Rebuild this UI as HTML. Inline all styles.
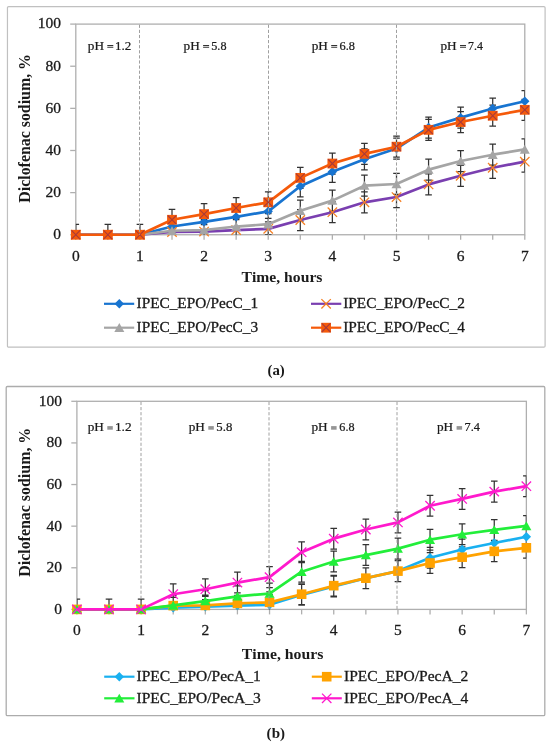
<!DOCTYPE html>
<html><head><meta charset="utf-8"><title>Diclofenac sodium release</title>
<style>
html,body{margin:0;padding:0;background:#fff;}
body{width:550px;height:745px;overflow:hidden;}
svg{display:block;will-change:transform;font-family:"Liberation Serif",serif;font-kerning:none;fill:#1a1a1a;}
text{fill:#1a1a1a;stroke:#1a1a1a;stroke-width:0.3px;}
text[font-weight=bold]{stroke-width:0;}
.ph text{stroke-width:0.22px;}
</style></head><body>
<svg width="550" height="745" viewBox="0 0 550 745">
<rect x="7.45" y="6.55" width="537.65" height="340.65" rx="1.2" fill="none" stroke="#c0c0c0" stroke-width="1.2"/>
<rect x="75.80" y="24.10" width="448.98" height="210.65" fill="none" stroke="#afafaf" stroke-width="1.3"/>
<line x1="70.20" y1="234.75" x2="75.80" y2="234.75" stroke="#afafaf" stroke-width="1.3"/>
<line x1="70.20" y1="192.62" x2="75.80" y2="192.62" stroke="#afafaf" stroke-width="1.3"/>
<line x1="70.20" y1="150.49" x2="75.80" y2="150.49" stroke="#afafaf" stroke-width="1.3"/>
<line x1="70.20" y1="108.36" x2="75.80" y2="108.36" stroke="#afafaf" stroke-width="1.3"/>
<line x1="70.20" y1="66.23" x2="75.80" y2="66.23" stroke="#afafaf" stroke-width="1.3"/>
<line x1="70.20" y1="24.10" x2="75.80" y2="24.10" stroke="#afafaf" stroke-width="1.3"/>
<line x1="75.80" y1="234.75" x2="75.80" y2="239.75" stroke="#afafaf" stroke-width="1.3"/>
<line x1="107.87" y1="234.75" x2="107.87" y2="239.75" stroke="#afafaf" stroke-width="1.3"/>
<line x1="139.94" y1="234.75" x2="139.94" y2="239.75" stroke="#afafaf" stroke-width="1.3"/>
<line x1="172.01" y1="234.75" x2="172.01" y2="239.75" stroke="#afafaf" stroke-width="1.3"/>
<line x1="204.08" y1="234.75" x2="204.08" y2="239.75" stroke="#afafaf" stroke-width="1.3"/>
<line x1="236.15" y1="234.75" x2="236.15" y2="239.75" stroke="#afafaf" stroke-width="1.3"/>
<line x1="268.22" y1="234.75" x2="268.22" y2="239.75" stroke="#afafaf" stroke-width="1.3"/>
<line x1="300.29" y1="234.75" x2="300.29" y2="239.75" stroke="#afafaf" stroke-width="1.3"/>
<line x1="332.36" y1="234.75" x2="332.36" y2="239.75" stroke="#afafaf" stroke-width="1.3"/>
<line x1="364.43" y1="234.75" x2="364.43" y2="239.75" stroke="#afafaf" stroke-width="1.3"/>
<line x1="396.50" y1="234.75" x2="396.50" y2="239.75" stroke="#afafaf" stroke-width="1.3"/>
<line x1="428.57" y1="234.75" x2="428.57" y2="239.75" stroke="#afafaf" stroke-width="1.3"/>
<line x1="460.64" y1="234.75" x2="460.64" y2="239.75" stroke="#afafaf" stroke-width="1.3"/>
<line x1="492.71" y1="234.75" x2="492.71" y2="239.75" stroke="#afafaf" stroke-width="1.3"/>
<line x1="524.78" y1="234.75" x2="524.78" y2="239.75" stroke="#afafaf" stroke-width="1.3"/>
<text x="61.10" y="239.05" font-size="15.50" text-anchor="end">0</text>
<text x="61.10" y="196.92" font-size="15.50" text-anchor="end">20</text>
<text x="61.10" y="154.79" font-size="15.50" text-anchor="end">40</text>
<text x="61.10" y="112.66" font-size="15.50" text-anchor="end">60</text>
<text x="61.10" y="70.53" font-size="15.50" text-anchor="end">80</text>
<text x="61.10" y="28.40" font-size="15.50" text-anchor="end">100</text>
<text x="75.80" y="260.70" font-size="15.50" text-anchor="middle">0</text>
<text x="139.94" y="260.70" font-size="15.50" text-anchor="middle">1</text>
<text x="204.08" y="260.70" font-size="15.50" text-anchor="middle">2</text>
<text x="268.22" y="260.70" font-size="15.50" text-anchor="middle">3</text>
<text x="332.36" y="260.70" font-size="15.50" text-anchor="middle">4</text>
<text x="396.50" y="260.70" font-size="15.50" text-anchor="middle">5</text>
<text x="460.64" y="260.70" font-size="15.50" text-anchor="middle">6</text>
<text x="524.78" y="260.70" font-size="15.50" text-anchor="middle">7</text>
<text x="241.45" y="281.60" font-size="14.60" font-weight="bold" textLength="81.03" lengthAdjust="spacingAndGlyphs">Time, hours</text>
<text transform="translate(29.80,202.68) rotate(-90)" x="0" y="0" font-size="16.20" font-weight="bold" textLength="148.67" lengthAdjust="spacingAndGlyphs">Diclofenac sodium, %</text>
<clipPath id="ca"><rect x="75.80" y="24.10" width="448.98" height="210.65"/></clipPath>
<path d="M75.80 224.25V245.25M72.50 224.25H79.10M72.50 245.25H79.10M107.87 224.25V245.25M104.57 224.25H111.17M104.57 245.25H111.17M139.94 224.25V245.25M136.64 224.25H143.24M136.64 245.25H143.24M172.01 216.03V237.03M168.71 216.03H175.31M168.71 237.03H175.31M204.08 211.40V232.40M200.78 211.40H207.38M200.78 232.40H207.38M236.15 206.34V227.34M232.85 206.34H239.45M232.85 227.34H239.45M268.22 200.87V221.87M264.92 200.87H271.52M264.92 221.87H271.52M300.29 175.80V196.80M296.99 175.80H303.59M296.99 196.80H303.59M332.36 161.27V182.27M329.06 161.27H335.66M329.06 182.27H335.66M364.43 148.84V169.84M361.13 148.84H367.73M361.13 169.84H367.73M396.50 138.09V159.09M393.20 138.09H399.80M393.20 159.09H399.80M428.57 117.03V138.03M425.27 117.03H431.87M425.27 138.03H431.87M460.64 107.13V128.13M457.34 107.13H463.94M457.34 128.13H463.94M492.71 98.07V119.07M489.41 98.07H496.01M489.41 119.07H496.01M524.78 90.70V111.70M521.48 90.70H528.08M521.48 111.70H528.08M75.80 224.25V245.25M72.50 224.25H79.10M72.50 245.25H79.10M107.87 224.25V245.25M104.57 224.25H111.17M104.57 245.25H111.17M139.94 224.25V245.25M136.64 224.25H143.24M136.64 245.25H143.24M172.01 221.51V242.51M168.71 221.51H175.31M168.71 242.51H175.31M204.08 221.09V242.09M200.78 221.09H207.38M200.78 242.09H207.38M236.15 219.62V240.62M232.85 219.62H239.45M232.85 240.62H239.45M268.22 218.35V239.35M264.92 218.35H271.52M264.92 239.35H271.52M300.29 209.50V230.50M296.99 209.50H303.59M296.99 230.50H303.59M332.36 201.71V222.71M329.06 201.71H335.66M329.06 222.71H335.66M364.43 191.81V212.81M361.13 191.81H367.73M361.13 212.81H367.73M396.50 186.54V207.54M393.20 186.54H399.80M393.20 207.54H399.80M428.57 173.90V194.90M425.27 173.90H431.87M425.27 194.90H431.87M460.64 165.27V186.27M457.34 165.27H463.94M457.34 186.27H463.94M492.71 157.26V178.26M489.41 157.26H496.01M489.41 178.26H496.01M524.78 151.15V172.15M521.48 151.15H528.08M521.48 172.15H528.08M75.80 224.25V245.25M72.50 224.25H79.10M72.50 245.25H79.10M107.87 224.25V245.25M104.57 224.25H111.17M104.57 245.25H111.17M139.94 224.25V245.25M136.64 224.25H143.24M136.64 245.25H143.24M172.01 220.25V241.25M168.71 220.25H175.31M168.71 241.25H175.31M204.08 219.62V240.62M200.78 219.62H207.38M200.78 240.62H207.38M236.15 216.03V237.03M232.85 216.03H239.45M232.85 237.03H239.45M268.22 213.72V234.72M264.92 213.72H271.52M264.92 234.72H271.52M300.29 200.24V221.24M296.99 200.24H303.59M296.99 221.24H303.59M332.36 190.12V211.12M329.06 190.12H335.66M329.06 211.12H335.66M364.43 175.17V196.17M361.13 175.17H367.73M361.13 196.17H367.73M396.50 173.48V194.48M393.20 173.48H399.80M393.20 194.48H399.80M428.57 159.16V180.16M425.27 159.16H431.87M425.27 180.16H431.87M460.64 150.52V171.52M457.34 150.52H463.94M457.34 171.52H463.94M492.71 144.20V165.20M489.41 144.20H496.01M489.41 165.20H496.01M524.78 138.94V159.94M521.48 138.94H528.08M521.48 159.94H528.08M75.80 224.25V245.25M72.50 224.25H79.10M72.50 245.25H79.10M107.87 224.25V245.25M104.57 224.25H111.17M104.57 245.25H111.17M139.94 224.25V245.25M136.64 224.25H143.24M136.64 245.25H143.24M172.01 209.29V230.29M168.71 209.29H175.31M168.71 230.29H175.31M204.08 203.61V224.61M200.78 203.61H207.38M200.78 224.61H207.38M236.15 197.50V218.50M232.85 197.50H239.45M232.85 218.50H239.45M268.22 191.81V212.81M264.92 191.81H271.52M264.92 212.81H271.52M300.29 167.37V188.37M296.99 167.37H303.59M296.99 188.37H303.59M332.36 153.05V174.05M329.06 153.05H335.66M329.06 174.05H335.66M364.43 143.36V164.36M361.13 143.36H367.73M361.13 164.36H367.73M396.50 136.20V157.20M393.20 136.20H399.80M393.20 157.20H399.80M428.57 119.35V140.35M425.27 119.35H431.87M425.27 140.35H431.87M460.64 111.55V132.55M457.34 111.55H463.94M457.34 132.55H463.94M492.71 105.23V126.23M489.41 105.23H496.01M489.41 126.23H496.01M524.78 99.33V120.33M521.48 99.33H528.08M521.48 120.33H528.08" stroke="#333" stroke-width="1.25" fill="none" clip-path="url(#ca)"/>
<polyline points="75.80,234.75 107.87,234.75 139.94,234.75 172.01,226.53 204.08,221.90 236.15,216.84 268.22,211.37 300.29,186.30 332.36,171.77 364.43,159.34 396.50,148.59 428.57,127.53 460.64,117.63 492.71,108.57 524.78,101.20" fill="none" stroke="#1874d0" stroke-width="2.7" stroke-linejoin="round"/>
<path d="M75.80 230.05L80.50 234.75L75.80 239.45L71.10 234.75Z" fill="#1874d0"/>
<path d="M107.87 230.05L112.57 234.75L107.87 239.45L103.17 234.75Z" fill="#1874d0"/>
<path d="M139.94 230.05L144.64 234.75L139.94 239.45L135.24 234.75Z" fill="#1874d0"/>
<path d="M172.01 221.83L176.71 226.53L172.01 231.23L167.31 226.53Z" fill="#1874d0"/>
<path d="M204.08 217.20L208.78 221.90L204.08 226.60L199.38 221.90Z" fill="#1874d0"/>
<path d="M236.15 212.14L240.85 216.84L236.15 221.54L231.45 216.84Z" fill="#1874d0"/>
<path d="M268.22 206.67L272.92 211.37L268.22 216.07L263.52 211.37Z" fill="#1874d0"/>
<path d="M300.29 181.60L304.99 186.30L300.29 191.00L295.59 186.30Z" fill="#1874d0"/>
<path d="M332.36 167.07L337.06 171.77L332.36 176.47L327.66 171.77Z" fill="#1874d0"/>
<path d="M364.43 154.64L369.13 159.34L364.43 164.04L359.73 159.34Z" fill="#1874d0"/>
<path d="M396.50 143.89L401.20 148.59L396.50 153.29L391.80 148.59Z" fill="#1874d0"/>
<path d="M428.57 122.83L433.27 127.53L428.57 132.23L423.87 127.53Z" fill="#1874d0"/>
<path d="M460.64 112.93L465.34 117.63L460.64 122.33L455.94 117.63Z" fill="#1874d0"/>
<path d="M492.71 103.87L497.41 108.57L492.71 113.27L488.01 108.57Z" fill="#1874d0"/>
<path d="M524.78 96.50L529.48 101.20L524.78 105.90L520.08 101.20Z" fill="#1874d0"/>
<polyline points="75.80,234.75 107.87,234.75 139.94,234.75 172.01,232.01 204.08,231.59 236.15,230.12 268.22,228.85 300.29,220.00 332.36,212.21 364.43,202.31 396.50,197.04 428.57,184.40 460.64,175.77 492.71,167.76 524.78,161.65" fill="none" stroke="#7a3fb0" stroke-width="2.7" stroke-linejoin="round"/>
<path d="M71.10 230.05L80.50 239.45M80.50 230.05L71.10 239.45" stroke="#f58025" stroke-width="1.3" fill="none"/>
<path d="M103.17 230.05L112.57 239.45M112.57 230.05L103.17 239.45" stroke="#f58025" stroke-width="1.3" fill="none"/>
<path d="M135.24 230.05L144.64 239.45M144.64 230.05L135.24 239.45" stroke="#f58025" stroke-width="1.3" fill="none"/>
<path d="M167.31 227.31L176.71 236.71M176.71 227.31L167.31 236.71" stroke="#f58025" stroke-width="1.3" fill="none"/>
<path d="M199.38 226.89L208.78 236.29M208.78 226.89L199.38 236.29" stroke="#f58025" stroke-width="1.3" fill="none"/>
<path d="M231.45 225.42L240.85 234.82M240.85 225.42L231.45 234.82" stroke="#f58025" stroke-width="1.3" fill="none"/>
<path d="M263.52 224.15L272.92 233.55M272.92 224.15L263.52 233.55" stroke="#f58025" stroke-width="1.3" fill="none"/>
<path d="M295.59 215.30L304.99 224.70M304.99 215.30L295.59 224.70" stroke="#f58025" stroke-width="1.3" fill="none"/>
<path d="M327.66 207.51L337.06 216.91M337.06 207.51L327.66 216.91" stroke="#f58025" stroke-width="1.3" fill="none"/>
<path d="M359.73 197.61L369.13 207.01M369.13 197.61L359.73 207.01" stroke="#f58025" stroke-width="1.3" fill="none"/>
<path d="M391.80 192.34L401.20 201.74M401.20 192.34L391.80 201.74" stroke="#f58025" stroke-width="1.3" fill="none"/>
<path d="M423.87 179.70L433.27 189.10M433.27 179.70L423.87 189.10" stroke="#f58025" stroke-width="1.3" fill="none"/>
<path d="M455.94 171.07L465.34 180.47M465.34 171.07L455.94 180.47" stroke="#f58025" stroke-width="1.3" fill="none"/>
<path d="M488.01 163.06L497.41 172.46M497.41 163.06L488.01 172.46" stroke="#f58025" stroke-width="1.3" fill="none"/>
<path d="M520.08 156.95L529.48 166.35M529.48 156.95L520.08 166.35" stroke="#f58025" stroke-width="1.3" fill="none"/>
<polyline points="75.80,234.75 107.87,234.75 139.94,234.75 172.01,230.75 204.08,230.12 236.15,226.53 268.22,224.22 300.29,210.74 332.36,200.62 364.43,185.67 396.50,183.98 428.57,169.66 460.64,161.02 492.71,154.70 524.78,149.44" fill="none" stroke="#a5a5a5" stroke-width="2.7" stroke-linejoin="round"/>
<path d="M75.80 230.15L80.80 238.95L70.80 238.95Z" fill="#a5a5a5"/>
<path d="M107.87 230.15L112.87 238.95L102.87 238.95Z" fill="#a5a5a5"/>
<path d="M139.94 230.15L144.94 238.95L134.94 238.95Z" fill="#a5a5a5"/>
<path d="M172.01 226.15L177.01 234.95L167.01 234.95Z" fill="#a5a5a5"/>
<path d="M204.08 225.52L209.08 234.32L199.08 234.32Z" fill="#a5a5a5"/>
<path d="M236.15 221.93L241.15 230.73L231.15 230.73Z" fill="#a5a5a5"/>
<path d="M268.22 219.62L273.22 228.42L263.22 228.42Z" fill="#a5a5a5"/>
<path d="M300.29 206.14L305.29 214.94L295.29 214.94Z" fill="#a5a5a5"/>
<path d="M332.36 196.02L337.36 204.82L327.36 204.82Z" fill="#a5a5a5"/>
<path d="M364.43 181.07L369.43 189.87L359.43 189.87Z" fill="#a5a5a5"/>
<path d="M396.50 179.38L401.50 188.18L391.50 188.18Z" fill="#a5a5a5"/>
<path d="M428.57 165.06L433.57 173.86L423.57 173.86Z" fill="#a5a5a5"/>
<path d="M460.64 156.42L465.64 165.22L455.64 165.22Z" fill="#a5a5a5"/>
<path d="M492.71 150.10L497.71 158.90L487.71 158.90Z" fill="#a5a5a5"/>
<path d="M524.78 144.84L529.78 153.64L519.78 153.64Z" fill="#a5a5a5"/>
<polyline points="75.80,234.75 107.87,234.75 139.94,234.75 172.01,219.79 204.08,214.11 236.15,208.00 268.22,202.31 300.29,177.87 332.36,163.55 364.43,153.86 396.50,146.70 428.57,129.85 460.64,122.05 492.71,115.73 524.78,109.83" fill="none" stroke="#f55a0a" stroke-width="2.7" stroke-linejoin="round"/>
<rect x="70.90" y="229.85" width="9.80" height="9.80" fill="#f55a0a"/><path d="M71.50 230.45L80.10 239.05M80.10 230.45L71.50 239.05" stroke="#a83a3a" stroke-width="1.1" fill="none"/>
<rect x="102.97" y="229.85" width="9.80" height="9.80" fill="#f55a0a"/><path d="M103.57 230.45L112.17 239.05M112.17 230.45L103.57 239.05" stroke="#a83a3a" stroke-width="1.1" fill="none"/>
<rect x="135.04" y="229.85" width="9.80" height="9.80" fill="#f55a0a"/><path d="M135.64 230.45L144.24 239.05M144.24 230.45L135.64 239.05" stroke="#a83a3a" stroke-width="1.1" fill="none"/>
<rect x="167.11" y="214.89" width="9.80" height="9.80" fill="#f55a0a"/><path d="M167.71 215.49L176.31 224.09M176.31 215.49L167.71 224.09" stroke="#a83a3a" stroke-width="1.1" fill="none"/>
<rect x="199.18" y="209.21" width="9.80" height="9.80" fill="#f55a0a"/><path d="M199.78 209.81L208.38 218.41M208.38 209.81L199.78 218.41" stroke="#a83a3a" stroke-width="1.1" fill="none"/>
<rect x="231.25" y="203.10" width="9.80" height="9.80" fill="#f55a0a"/><path d="M231.85 203.70L240.45 212.30M240.45 203.70L231.85 212.30" stroke="#a83a3a" stroke-width="1.1" fill="none"/>
<rect x="263.32" y="197.41" width="9.80" height="9.80" fill="#f55a0a"/><path d="M263.92 198.01L272.52 206.61M272.52 198.01L263.92 206.61" stroke="#a83a3a" stroke-width="1.1" fill="none"/>
<rect x="295.39" y="172.97" width="9.80" height="9.80" fill="#f55a0a"/><path d="M295.99 173.57L304.59 182.17M304.59 173.57L295.99 182.17" stroke="#a83a3a" stroke-width="1.1" fill="none"/>
<rect x="327.46" y="158.65" width="9.80" height="9.80" fill="#f55a0a"/><path d="M328.06 159.25L336.66 167.85M336.66 159.25L328.06 167.85" stroke="#a83a3a" stroke-width="1.1" fill="none"/>
<rect x="359.53" y="148.96" width="9.80" height="9.80" fill="#f55a0a"/><path d="M360.13 149.56L368.73 158.16M368.73 149.56L360.13 158.16" stroke="#a83a3a" stroke-width="1.1" fill="none"/>
<rect x="391.60" y="141.80" width="9.80" height="9.80" fill="#f55a0a"/><path d="M392.20 142.40L400.80 151.00M400.80 142.40L392.20 151.00" stroke="#a83a3a" stroke-width="1.1" fill="none"/>
<rect x="423.67" y="124.95" width="9.80" height="9.80" fill="#f55a0a"/><path d="M424.27 125.55L432.87 134.15M432.87 125.55L424.27 134.15" stroke="#a83a3a" stroke-width="1.1" fill="none"/>
<rect x="455.74" y="117.15" width="9.80" height="9.80" fill="#f55a0a"/><path d="M456.34 117.75L464.94 126.35M464.94 117.75L456.34 126.35" stroke="#a83a3a" stroke-width="1.1" fill="none"/>
<rect x="487.81" y="110.83" width="9.80" height="9.80" fill="#f55a0a"/><path d="M488.41 111.43L497.01 120.03M497.01 111.43L488.41 120.03" stroke="#a83a3a" stroke-width="1.1" fill="none"/>
<rect x="519.88" y="104.93" width="9.80" height="9.80" fill="#f55a0a"/><path d="M520.48 105.53L529.08 114.13M529.08 105.53L520.48 114.13" stroke="#a83a3a" stroke-width="1.1" fill="none"/>
<line x1="139.50" y1="24.70" x2="139.50" y2="234.75" stroke="#a0a0a0" stroke-width="1" stroke-dasharray="3.2 1.9"/>
<line x1="268.50" y1="24.70" x2="268.50" y2="234.75" stroke="#a0a0a0" stroke-width="1" stroke-dasharray="3.2 1.9"/>
<line x1="396.50" y1="24.70" x2="396.50" y2="234.75" stroke="#a0a0a0" stroke-width="1" stroke-dasharray="3.2 1.9"/>
<g class="ph">
<text x="87.79" y="50.25" font-size="11.70" textLength="16.20" lengthAdjust="spacingAndGlyphs">pH</text>
<path d="M107.30 44.95h6v1h-6zM107.30 46.85h6v1h-6z" fill="#333"/>
<text x="115.06" y="50.25" font-size="11.70" textLength="16.26" lengthAdjust="spacingAndGlyphs">1.2</text>
</g>
<g class="ph">
<text x="183.59" y="50.25" font-size="11.70" textLength="16.20" lengthAdjust="spacingAndGlyphs">pH</text>
<path d="M203.10 44.95h6v1h-6zM203.10 46.85h6v1h-6z" fill="#333"/>
<text x="211.29" y="50.25" font-size="11.70" textLength="15.17" lengthAdjust="spacingAndGlyphs">5.8</text>
</g>
<g class="ph">
<text x="311.69" y="50.25" font-size="11.70" textLength="16.20" lengthAdjust="spacingAndGlyphs">pH</text>
<path d="M331.20 44.95h6v1h-6zM331.20 46.85h6v1h-6z" fill="#333"/>
<text x="339.57" y="50.25" font-size="11.70" textLength="15.40" lengthAdjust="spacingAndGlyphs">6.8</text>
</g>
<g class="ph">
<text x="440.49" y="50.25" font-size="11.70" textLength="16.20" lengthAdjust="spacingAndGlyphs">pH</text>
<path d="M460.00 44.95h6v1h-6zM460.00 46.85h6v1h-6z" fill="#333"/>
<text x="468.12" y="50.25" font-size="11.70" textLength="14.87" lengthAdjust="spacingAndGlyphs">7.4</text>
</g>
<line x1="104.00" y1="303.80" x2="134.20" y2="303.80" stroke="#1874d0" stroke-width="2.2"/>
<path d="M119.30 299.10L124.00 303.80L119.30 308.50L114.60 303.80Z" fill="#1874d0"/>
<text x="136.55" y="308.30" font-size="14.60" textLength="121.57" lengthAdjust="spacingAndGlyphs">IPEC_EPO/PecC_1</text>
<line x1="311.00" y1="303.80" x2="341.30" y2="303.80" stroke="#7a3fb0" stroke-width="2.2"/>
<path d="M321.40 299.10L330.80 308.50M330.80 299.10L321.40 308.50" stroke="#f58025" stroke-width="1.3" fill="none"/>
<text x="343.25" y="308.30" font-size="14.60" textLength="121.57" lengthAdjust="spacingAndGlyphs">IPEC_EPO/PecC_2</text>
<line x1="104.00" y1="327.70" x2="134.20" y2="327.70" stroke="#a5a5a5" stroke-width="2.2"/>
<path d="M119.30 323.10L124.30 331.90L114.30 331.90Z" fill="#a5a5a5"/>
<text x="136.55" y="332.00" font-size="14.60" textLength="121.57" lengthAdjust="spacingAndGlyphs">IPEC_EPO/PecC_3</text>
<line x1="311.00" y1="327.70" x2="341.30" y2="327.70" stroke="#f55a0a" stroke-width="2.2"/>
<rect x="321.20" y="322.80" width="9.80" height="9.80" fill="#f55a0a"/><path d="M321.80 323.40L330.40 332.00M330.40 323.40L321.80 332.00" stroke="#a83a3a" stroke-width="1.1" fill="none"/>
<text x="343.25" y="332.00" font-size="14.60" textLength="121.57" lengthAdjust="spacingAndGlyphs">IPEC_EPO/PecC_4</text>
<text x="267.45" y="374.80" font-size="14.20" font-weight="bold" textLength="17.30" lengthAdjust="spacingAndGlyphs">(a)</text>
<rect x="6.2" y="386.5" width="538.60" height="329.20" rx="1.2" fill="none" stroke="#acacac" stroke-width="1.3"/>
<rect x="76.90" y="401.30" width="449.47" height="208.10" fill="none" stroke="#afafaf" stroke-width="1.3"/>
<line x1="71.30" y1="609.40" x2="76.90" y2="609.40" stroke="#afafaf" stroke-width="1.3"/>
<line x1="71.30" y1="567.78" x2="76.90" y2="567.78" stroke="#afafaf" stroke-width="1.3"/>
<line x1="71.30" y1="526.16" x2="76.90" y2="526.16" stroke="#afafaf" stroke-width="1.3"/>
<line x1="71.30" y1="484.54" x2="76.90" y2="484.54" stroke="#afafaf" stroke-width="1.3"/>
<line x1="71.30" y1="442.92" x2="76.90" y2="442.92" stroke="#afafaf" stroke-width="1.3"/>
<line x1="71.30" y1="401.30" x2="76.90" y2="401.30" stroke="#afafaf" stroke-width="1.3"/>
<line x1="76.90" y1="609.40" x2="76.90" y2="614.40" stroke="#afafaf" stroke-width="1.3"/>
<line x1="109.00" y1="609.40" x2="109.00" y2="614.40" stroke="#afafaf" stroke-width="1.3"/>
<line x1="141.11" y1="609.40" x2="141.11" y2="614.40" stroke="#afafaf" stroke-width="1.3"/>
<line x1="173.22" y1="609.40" x2="173.22" y2="614.40" stroke="#afafaf" stroke-width="1.3"/>
<line x1="205.32" y1="609.40" x2="205.32" y2="614.40" stroke="#afafaf" stroke-width="1.3"/>
<line x1="237.42" y1="609.40" x2="237.42" y2="614.40" stroke="#afafaf" stroke-width="1.3"/>
<line x1="269.53" y1="609.40" x2="269.53" y2="614.40" stroke="#afafaf" stroke-width="1.3"/>
<line x1="301.63" y1="609.40" x2="301.63" y2="614.40" stroke="#afafaf" stroke-width="1.3"/>
<line x1="333.74" y1="609.40" x2="333.74" y2="614.40" stroke="#afafaf" stroke-width="1.3"/>
<line x1="365.85" y1="609.40" x2="365.85" y2="614.40" stroke="#afafaf" stroke-width="1.3"/>
<line x1="397.95" y1="609.40" x2="397.95" y2="614.40" stroke="#afafaf" stroke-width="1.3"/>
<line x1="430.05" y1="609.40" x2="430.05" y2="614.40" stroke="#afafaf" stroke-width="1.3"/>
<line x1="462.16" y1="609.40" x2="462.16" y2="614.40" stroke="#afafaf" stroke-width="1.3"/>
<line x1="494.26" y1="609.40" x2="494.26" y2="614.40" stroke="#afafaf" stroke-width="1.3"/>
<line x1="526.37" y1="609.40" x2="526.37" y2="614.40" stroke="#afafaf" stroke-width="1.3"/>
<text x="62.00" y="613.90" font-size="15.50" text-anchor="end">0</text>
<text x="62.00" y="572.28" font-size="15.50" text-anchor="end">20</text>
<text x="62.00" y="530.66" font-size="15.50" text-anchor="end">40</text>
<text x="62.00" y="489.04" font-size="15.50" text-anchor="end">60</text>
<text x="62.00" y="447.42" font-size="15.50" text-anchor="end">80</text>
<text x="62.00" y="405.80" font-size="15.50" text-anchor="end">100</text>
<text x="76.90" y="635.40" font-size="15.50" text-anchor="middle">0</text>
<text x="141.11" y="635.40" font-size="15.50" text-anchor="middle">1</text>
<text x="205.32" y="635.40" font-size="15.50" text-anchor="middle">2</text>
<text x="269.53" y="635.40" font-size="15.50" text-anchor="middle">3</text>
<text x="333.74" y="635.40" font-size="15.50" text-anchor="middle">4</text>
<text x="397.95" y="635.40" font-size="15.50" text-anchor="middle">5</text>
<text x="462.16" y="635.40" font-size="15.50" text-anchor="middle">6</text>
<text x="526.37" y="635.40" font-size="15.50" text-anchor="middle">7</text>
<text x="241.85" y="658.60" font-size="14.60" font-weight="bold" textLength="81.53" lengthAdjust="spacingAndGlyphs">Time, hours</text>
<text transform="translate(29.60,576.78) rotate(-90)" x="0" y="0" font-size="16.20" font-weight="bold" textLength="149.07" lengthAdjust="spacingAndGlyphs">Diclofenac sodium, %</text>
<clipPath id="cb"><rect x="76.90" y="401.30" width="449.47" height="208.10"/></clipPath>
<path d="M76.90 599.00V619.80M73.60 599.00H80.20M73.60 619.80H80.20M109.00 599.00V619.80M105.70 599.00H112.30M105.70 619.80H112.30M141.11 599.00V619.80M137.81 599.00H144.41M137.81 619.80H144.41M173.22 597.34V618.14M169.91 597.34H176.52M169.91 618.14H176.52M205.32 596.29V617.09M202.02 596.29H208.62M202.02 617.09H208.62M237.42 595.25V616.05M234.12 595.25H240.72M234.12 616.05H240.72M269.53 594.42V615.22M266.23 594.42H272.83M266.23 615.22H272.83M301.63 584.43V605.23M298.33 584.43H304.94M298.33 605.23H304.94M333.74 576.11V596.91M330.44 576.11H337.04M330.44 596.91H337.04M365.85 567.78V588.58M362.55 567.78H369.15M362.55 588.58H369.15M397.95 560.71V581.51M394.65 560.71H401.25M394.65 581.51H401.25M430.05 547.39V568.19M426.75 547.39H433.35M426.75 568.19H433.35M462.16 539.07V559.87M458.86 539.07H465.46M458.86 559.87H465.46M494.26 532.62V553.42M490.96 532.62H497.56M490.96 553.42H497.56M526.37 526.37V547.17M523.07 526.37H529.67M523.07 547.17H529.67M76.90 599.00V619.80M73.60 599.00H80.20M73.60 619.80H80.20M109.00 599.00V619.80M105.70 599.00H112.30M105.70 619.80H112.30M141.11 599.00V619.80M137.81 599.00H144.41M137.81 619.80H144.41M173.22 595.25V616.05M169.91 595.25H176.52M169.91 616.05H176.52M205.32 595.05V615.85M202.02 595.05H208.62M202.02 615.85H208.62M237.42 592.97V613.77M234.12 592.97H240.72M234.12 613.77H240.72M269.53 591.92V612.72M266.23 591.92H272.83M266.23 612.72H272.83M301.63 583.81V604.61M298.33 583.81H304.94M298.33 604.61H304.94M333.74 575.28V596.08M330.44 575.28H337.04M330.44 596.08H337.04M365.85 567.78V588.58M362.55 567.78H369.15M362.55 588.58H369.15M397.95 560.71V581.51M394.65 560.71H401.25M394.65 581.51H401.25M430.05 552.59V573.39M426.75 552.59H433.35M426.75 573.39H433.35M462.16 546.77V567.57M458.86 546.77H465.46M458.86 567.57H465.46M494.26 540.94V561.74M490.96 540.94H497.56M490.96 561.74H497.56M526.37 537.40V558.20M523.07 537.40H529.67M523.07 558.20H529.67M76.90 599.00V619.80M73.60 599.00H80.20M73.60 619.80H80.20M109.00 599.00V619.80M105.70 599.00H112.30M105.70 619.80H112.30M141.11 599.00V619.80M137.81 599.00H144.41M137.81 619.80H144.41M173.22 595.05V615.85M169.91 595.05H176.52M169.91 615.85H176.52M205.32 590.68V611.48M202.02 590.68H208.62M202.02 611.48H208.62M237.42 585.89V606.69M234.12 585.89H240.72M234.12 606.69H240.72M269.53 583.18V603.98M266.23 583.18H272.83M266.23 603.98H272.83M301.63 561.33V582.13M298.33 561.33H304.94M298.33 582.13H304.94M333.74 551.14V571.94M330.44 551.14H337.04M330.44 571.94H337.04M365.85 544.69V565.49M362.55 544.69H369.15M362.55 565.49H369.15M397.95 538.23V559.03M394.65 538.23H401.25M394.65 559.03H401.25M430.05 529.29V550.09M426.75 529.29H433.35M426.75 550.09H433.35M462.16 523.88V544.68M458.86 523.88H465.46M458.86 544.68H465.46M494.26 519.51V540.31M490.96 519.51H497.56M490.96 540.31H497.56M526.37 515.55V536.35M523.07 515.55H529.67M523.07 536.35H529.67M76.90 599.00V619.80M73.60 599.00H80.20M73.60 619.80H80.20M109.00 599.00V619.80M105.70 599.00H112.30M105.70 619.80H112.30M141.11 599.00V619.80M137.81 599.00H144.41M137.81 619.80H144.41M173.22 583.81V604.61M169.91 583.81H176.52M169.91 604.61H176.52M205.32 578.81V599.61M202.02 578.81H208.62M202.02 599.61H208.62M237.42 572.16V592.96M234.12 572.16H240.72M234.12 592.96H240.72M269.53 566.74V587.54M266.23 566.74H272.83M266.23 587.54H272.83M301.63 541.77V562.57M298.33 541.77H304.94M298.33 562.57H304.94M333.74 528.25V549.05M330.44 528.25H337.04M330.44 549.05H337.04M365.85 519.09V539.89M362.55 519.09H369.15M362.55 539.89H369.15M397.95 512.01V532.81M394.65 512.01H401.25M394.65 532.81H401.25M430.05 495.37V516.17M426.75 495.37H433.35M426.75 516.17H433.35M462.16 488.50V509.30M458.86 488.50H465.46M458.86 509.30H465.46M494.26 481.22V502.02M490.96 481.22H497.56M490.96 502.02H497.56M526.37 475.80V496.60M523.07 475.80H529.67M523.07 496.60H529.67" stroke="#333" stroke-width="1.25" fill="none" clip-path="url(#cb)"/>
<polyline points="76.90,609.40 109.00,609.40 141.11,609.40 173.22,607.74 205.32,606.69 237.42,605.65 269.53,604.82 301.63,594.83 333.74,586.51 365.85,578.18 397.95,571.11 430.05,557.79 462.16,549.47 494.26,543.02 526.37,536.77" fill="none" stroke="#19b0f0" stroke-width="2.7" stroke-linejoin="round"/>
<path d="M76.90 604.70L81.60 609.40L76.90 614.10L72.20 609.40Z" fill="#19b0f0"/>
<path d="M109.00 604.70L113.70 609.40L109.00 614.10L104.30 609.40Z" fill="#19b0f0"/>
<path d="M141.11 604.70L145.81 609.40L141.11 614.10L136.41 609.40Z" fill="#19b0f0"/>
<path d="M173.22 603.04L177.91 607.74L173.22 612.44L168.52 607.74Z" fill="#19b0f0"/>
<path d="M205.32 601.99L210.02 606.69L205.32 611.39L200.62 606.69Z" fill="#19b0f0"/>
<path d="M237.42 600.95L242.12 605.65L237.42 610.35L232.72 605.65Z" fill="#19b0f0"/>
<path d="M269.53 600.12L274.23 604.82L269.53 609.52L264.83 604.82Z" fill="#19b0f0"/>
<path d="M301.63 590.13L306.33 594.83L301.63 599.53L296.94 594.83Z" fill="#19b0f0"/>
<path d="M333.74 581.81L338.44 586.51L333.74 591.21L329.04 586.51Z" fill="#19b0f0"/>
<path d="M365.85 573.48L370.55 578.18L365.85 582.88L361.15 578.18Z" fill="#19b0f0"/>
<path d="M397.95 566.41L402.65 571.11L397.95 575.81L393.25 571.11Z" fill="#19b0f0"/>
<path d="M430.05 553.09L434.75 557.79L430.05 562.49L425.35 557.79Z" fill="#19b0f0"/>
<path d="M462.16 544.77L466.86 549.47L462.16 554.17L457.46 549.47Z" fill="#19b0f0"/>
<path d="M494.26 538.32L498.96 543.02L494.26 547.72L489.56 543.02Z" fill="#19b0f0"/>
<path d="M526.37 532.07L531.07 536.77L526.37 541.47L521.67 536.77Z" fill="#19b0f0"/>
<polyline points="76.90,609.40 109.00,609.40 141.11,609.40 173.22,605.65 205.32,605.45 237.42,603.37 269.53,602.32 301.63,594.21 333.74,585.68 365.85,578.18 397.95,571.11 430.05,562.99 462.16,557.17 494.26,551.34 526.37,547.80" fill="none" stroke="#ffa200" stroke-width="2.7" stroke-linejoin="round"/>
<rect x="72.10" y="604.60" width="9.60" height="9.60" fill="#ffa200"/>
<rect x="104.20" y="604.60" width="9.60" height="9.60" fill="#ffa200"/>
<rect x="136.31" y="604.60" width="9.60" height="9.60" fill="#ffa200"/>
<rect x="168.41" y="600.85" width="9.60" height="9.60" fill="#ffa200"/>
<rect x="200.52" y="600.65" width="9.60" height="9.60" fill="#ffa200"/>
<rect x="232.62" y="598.57" width="9.60" height="9.60" fill="#ffa200"/>
<rect x="264.73" y="597.52" width="9.60" height="9.60" fill="#ffa200"/>
<rect x="296.83" y="589.41" width="9.60" height="9.60" fill="#ffa200"/>
<rect x="328.94" y="580.88" width="9.60" height="9.60" fill="#ffa200"/>
<rect x="361.05" y="573.38" width="9.60" height="9.60" fill="#ffa200"/>
<rect x="393.15" y="566.31" width="9.60" height="9.60" fill="#ffa200"/>
<rect x="425.25" y="558.19" width="9.60" height="9.60" fill="#ffa200"/>
<rect x="457.36" y="552.37" width="9.60" height="9.60" fill="#ffa200"/>
<rect x="489.46" y="546.54" width="9.60" height="9.60" fill="#ffa200"/>
<rect x="521.57" y="543.00" width="9.60" height="9.60" fill="#ffa200"/>
<polyline points="76.90,609.40 109.00,609.40 141.11,609.40 173.22,605.45 205.32,601.08 237.42,596.29 269.53,593.58 301.63,571.73 333.74,561.54 365.85,555.09 397.95,548.63 430.05,539.69 462.16,534.28 494.26,529.91 526.37,525.95" fill="none" stroke="#22ee3a" stroke-width="2.7" stroke-linejoin="round"/>
<path d="M76.90 604.80L81.90 613.60L71.90 613.60Z" fill="#22ee3a"/>
<path d="M109.00 604.80L114.00 613.60L104.00 613.60Z" fill="#22ee3a"/>
<path d="M141.11 604.80L146.11 613.60L136.11 613.60Z" fill="#22ee3a"/>
<path d="M173.22 600.85L178.22 609.65L168.22 609.65Z" fill="#22ee3a"/>
<path d="M205.32 596.48L210.32 605.28L200.32 605.28Z" fill="#22ee3a"/>
<path d="M237.42 591.69L242.42 600.49L232.42 600.49Z" fill="#22ee3a"/>
<path d="M269.53 588.98L274.53 597.78L264.53 597.78Z" fill="#22ee3a"/>
<path d="M301.63 567.13L306.63 575.93L296.63 575.93Z" fill="#22ee3a"/>
<path d="M333.74 556.94L338.74 565.74L328.74 565.74Z" fill="#22ee3a"/>
<path d="M365.85 550.49L370.85 559.29L360.85 559.29Z" fill="#22ee3a"/>
<path d="M397.95 544.03L402.95 552.83L392.95 552.83Z" fill="#22ee3a"/>
<path d="M430.05 535.09L435.05 543.89L425.05 543.89Z" fill="#22ee3a"/>
<path d="M462.16 529.68L467.16 538.48L457.16 538.48Z" fill="#22ee3a"/>
<path d="M494.26 525.31L499.26 534.11L489.26 534.11Z" fill="#22ee3a"/>
<path d="M526.37 521.35L531.37 530.15L521.37 530.15Z" fill="#22ee3a"/>
<polyline points="76.90,609.40 109.00,609.40 141.11,609.40 173.22,594.21 205.32,589.21 237.42,582.56 269.53,577.14 301.63,552.17 333.74,538.65 365.85,529.49 397.95,522.41 430.05,505.77 462.16,498.90 494.26,491.62 526.37,486.20" fill="none" stroke="#ff19cc" stroke-width="2.7" stroke-linejoin="round"/>
<path d="M72.20 604.70L81.60 614.10M81.60 604.70L72.20 614.10" stroke="#ff19cc" stroke-width="1.3" fill="none"/>
<path d="M104.30 604.70L113.70 614.10M113.70 604.70L104.30 614.10" stroke="#ff19cc" stroke-width="1.3" fill="none"/>
<path d="M136.41 604.70L145.81 614.10M145.81 604.70L136.41 614.10" stroke="#ff19cc" stroke-width="1.3" fill="none"/>
<path d="M168.52 589.51L177.91 598.91M177.91 589.51L168.52 598.91" stroke="#ff19cc" stroke-width="1.3" fill="none"/>
<path d="M200.62 584.51L210.02 593.91M210.02 584.51L200.62 593.91" stroke="#ff19cc" stroke-width="1.3" fill="none"/>
<path d="M232.72 577.86L242.12 587.26M242.12 577.86L232.72 587.26" stroke="#ff19cc" stroke-width="1.3" fill="none"/>
<path d="M264.83 572.44L274.23 581.84M274.23 572.44L264.83 581.84" stroke="#ff19cc" stroke-width="1.3" fill="none"/>
<path d="M296.94 547.47L306.33 556.87M306.33 547.47L296.94 556.87" stroke="#ff19cc" stroke-width="1.3" fill="none"/>
<path d="M329.04 533.95L338.44 543.35M338.44 533.95L329.04 543.35" stroke="#ff19cc" stroke-width="1.3" fill="none"/>
<path d="M361.15 524.79L370.55 534.19M370.55 524.79L361.15 534.19" stroke="#ff19cc" stroke-width="1.3" fill="none"/>
<path d="M393.25 517.71L402.65 527.11M402.65 517.71L393.25 527.11" stroke="#ff19cc" stroke-width="1.3" fill="none"/>
<path d="M425.35 501.07L434.75 510.47M434.75 501.07L425.35 510.47" stroke="#ff19cc" stroke-width="1.3" fill="none"/>
<path d="M457.46 494.20L466.86 503.60M466.86 494.20L457.46 503.60" stroke="#ff19cc" stroke-width="1.3" fill="none"/>
<path d="M489.56 486.92L498.96 496.32M498.96 486.92L489.56 496.32" stroke="#ff19cc" stroke-width="1.3" fill="none"/>
<path d="M521.67 481.50L531.07 490.90M531.07 481.50L521.67 490.90" stroke="#ff19cc" stroke-width="1.3" fill="none"/>
<line x1="141.00" y1="401.90" x2="141.00" y2="609.40" stroke="#a0a0a0" stroke-width="1" stroke-dasharray="3.2 1.9"/>
<line x1="269.00" y1="401.90" x2="269.00" y2="609.40" stroke="#a0a0a0" stroke-width="1" stroke-dasharray="3.2 1.9"/>
<line x1="397.00" y1="401.90" x2="397.00" y2="609.40" stroke="#a0a0a0" stroke-width="1" stroke-dasharray="3.2 1.9"/>
<g class="ph">
<text x="87.69" y="431.20" font-size="11.70" textLength="16.20" lengthAdjust="spacingAndGlyphs">pH</text>
<rect x="107.30" y="426.10" width="5.5" height="3.6" fill="#959595"/>
<text x="114.92" y="431.20" font-size="11.70" textLength="16.71" lengthAdjust="spacingAndGlyphs">1.2</text>
</g>
<g class="ph">
<text x="188.69" y="431.20" font-size="11.70" textLength="16.20" lengthAdjust="spacingAndGlyphs">pH</text>
<rect x="208.30" y="426.10" width="5.5" height="3.6" fill="#959595"/>
<text x="216.36" y="431.20" font-size="11.70" textLength="15.93" lengthAdjust="spacingAndGlyphs">5.8</text>
</g>
<g class="ph">
<text x="311.49" y="431.20" font-size="11.70" textLength="16.20" lengthAdjust="spacingAndGlyphs">pH</text>
<rect x="331.10" y="426.10" width="5.5" height="3.6" fill="#959595"/>
<text x="339.38" y="431.20" font-size="11.70" textLength="15.18" lengthAdjust="spacingAndGlyphs">6.8</text>
</g>
<g class="ph">
<text x="436.99" y="431.20" font-size="11.70" textLength="16.20" lengthAdjust="spacingAndGlyphs">pH</text>
<rect x="456.60" y="426.10" width="5.5" height="3.6" fill="#959595"/>
<text x="464.59" y="431.20" font-size="11.70" textLength="15.40" lengthAdjust="spacingAndGlyphs">7.4</text>
</g>
<line x1="104.20" y1="676.70" x2="134.50" y2="676.70" stroke="#19b0f0" stroke-width="2.2"/>
<path d="M119.30 672.00L124.00 676.70L119.30 681.40L114.60 676.70Z" fill="#19b0f0"/>
<text x="136.54" y="680.80" font-size="14.60" textLength="124.19" lengthAdjust="spacingAndGlyphs">IPEC_EPO/PecA_1</text>
<line x1="311.80" y1="676.70" x2="341.80" y2="676.70" stroke="#ffa200" stroke-width="2.2"/>
<rect x="321.90" y="671.90" width="9.60" height="9.60" fill="#ffa200"/>
<text x="344.04" y="680.80" font-size="14.60" textLength="124.19" lengthAdjust="spacingAndGlyphs">IPEC_EPO/PecA_2</text>
<line x1="104.20" y1="698.30" x2="134.50" y2="698.30" stroke="#22ee3a" stroke-width="2.2"/>
<path d="M119.30 693.70L124.30 702.50L114.30 702.50Z" fill="#22ee3a"/>
<text x="136.54" y="703.20" font-size="14.60" textLength="124.19" lengthAdjust="spacingAndGlyphs">IPEC_EPO/PecA_3</text>
<line x1="311.80" y1="698.30" x2="341.80" y2="698.30" stroke="#ff19cc" stroke-width="2.2"/>
<path d="M322.00 693.60L331.40 703.00M331.40 693.60L322.00 703.00" stroke="#ff19cc" stroke-width="1.3" fill="none"/>
<text x="344.04" y="703.20" font-size="14.60" textLength="124.19" lengthAdjust="spacingAndGlyphs">IPEC_EPO/PecA_4</text>
<text x="266.64" y="737.60" font-size="14.20" font-weight="bold" textLength="18.43" lengthAdjust="spacingAndGlyphs">(b)</text>
</svg>
</body></html>
